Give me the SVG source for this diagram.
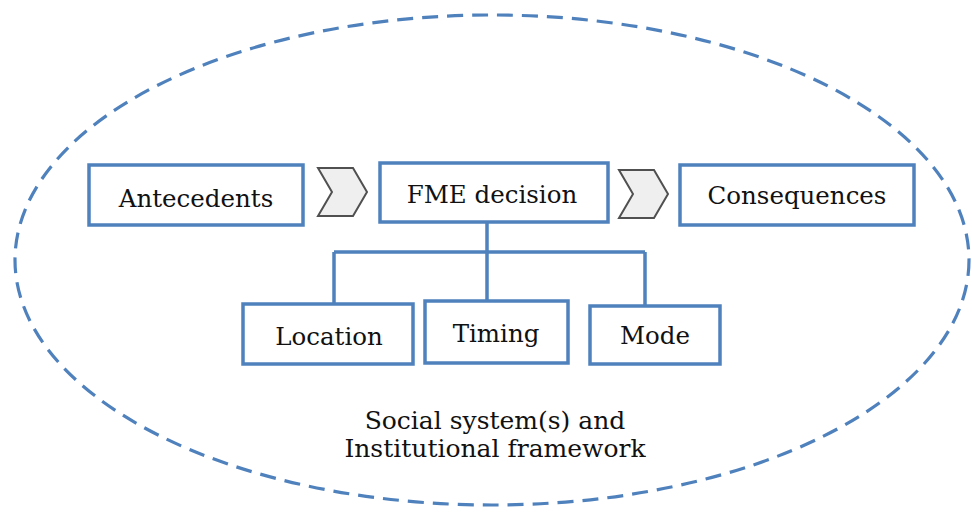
<svg xmlns="http://www.w3.org/2000/svg" width="972" height="514" viewBox="0 0 972 514">
  <style>
    .box { fill: #ffffff; stroke: #4f81bd; stroke-width: 3.5; }
    .chev { fill: #efefef; stroke: #505050; stroke-width: 2; stroke-linejoin: miter; }
    .lbl { font-family: "DejaVu Serif", "Liberation Serif", serif; font-size: 24.5px; fill: #111111; text-anchor: middle; }
    .cap { font-size: 25px; }
    .link { fill: none; stroke: #4f81bd; stroke-width: 3.5; }
  </style>
  <rect width="972" height="514" fill="#ffffff"/>

  <!-- surrounding social / institutional frame -->
  <g id="frame">
    <ellipse cx="492" cy="260" rx="477" ry="245" fill="none" stroke="#4f81bd" stroke-width="3.2" stroke-dasharray="16 9"/>
    <text class="lbl cap" x="495" y="429">Social system(s) and</text>
    <text class="lbl cap" x="495" y="457">Institutional framework</text>
  </g>

  <!-- connectors -->
  <g id="connectors">
    <path class="link" d="M487 222 V300 M334 252 H645 M334 252 V304 M645 252 V306"/>
    <polygon class="chev" points="318,168 353,168 367,192 353,216 318,216 332,192"/>
    <polygon class="chev" points="619,170 654,170 668,194 654,218 619,218 633,194"/>
  </g>

  <g id="antecedents">
    <rect class="box" x="89" y="165" width="214" height="60"/>
    <text class="lbl" x="196" y="207">Antecedents</text>
  </g>
  <g id="fme-decision">
    <rect class="box" x="380" y="163" width="228" height="59"/>
    <text class="lbl" x="492" y="203">FME decision</text>
  </g>
  <g id="consequences">
    <rect class="box" x="680" y="165" width="234" height="60"/>
    <text class="lbl" x="797" y="204">Consequences</text>
  </g>
  <g id="location">
    <rect class="box" x="243" y="304" width="170" height="60"/>
    <text class="lbl" x="329" y="345">Location</text>
  </g>
  <g id="timing">
    <rect class="box" x="425" y="301" width="143" height="62"/>
    <text class="lbl" x="496" y="342">Timing</text>
  </g>
  <g id="mode">
    <rect class="box" x="590" y="306" width="130" height="58"/>
    <text class="lbl" x="655" y="344">Mode</text>
  </g>
</svg>
